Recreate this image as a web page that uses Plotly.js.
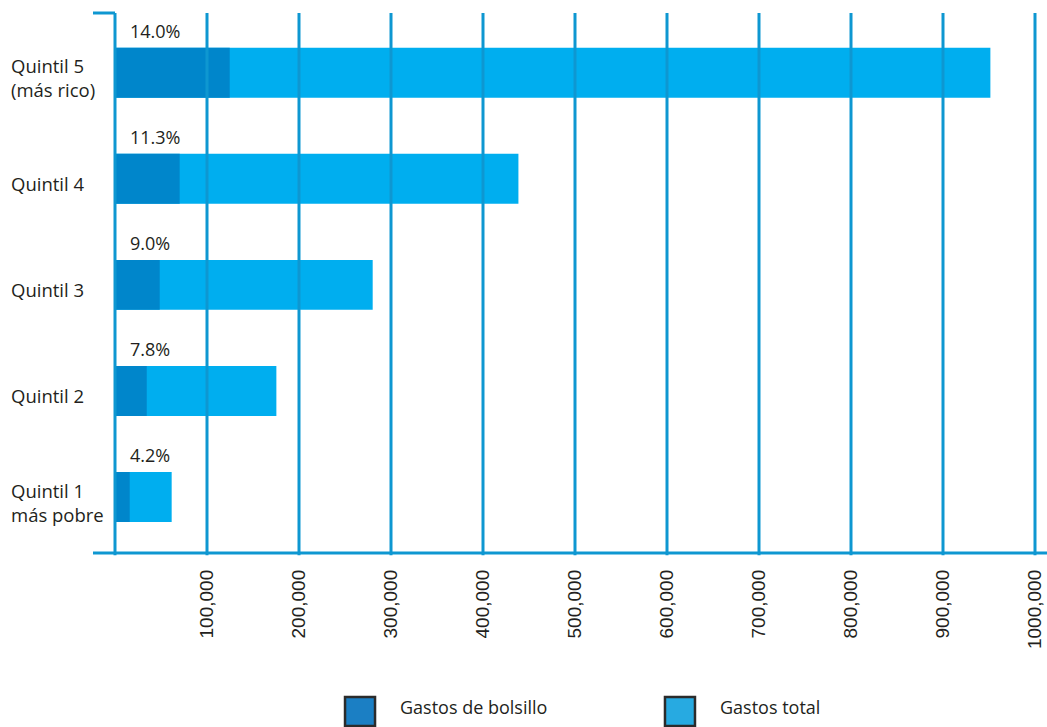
<!DOCTYPE html>
<html>
<head>
<meta charset="utf-8">
<script src="https://cdn.plot.ly/plotly-3.0.1.min.js"></script>
<style>html,body{margin:0;padding:0;background:#fff;}#chart{width:1047px;height:727px;}</style>
</head>
<body>
<div id="chart"></div>
<script>
// ---- Data ----
const categories = ["Quintil 1<br>más pobre", "Quintil 2", "Quintil 3", "Quintil 4", "Quintil 5<br>(más rico)"];
const gastosTotal = [61600, 175400, 280100, 438500, 951500];
const gastosBolsillo = [16000, 34500, 48600, 70300, 124700];
const pctLabels = ["4.2%", "7.8%", "9.0%", "11.3%", "14.0%"];
const seriesNames = ["Gastos de bolsillo", "Gastos total"];
const tickVals = [100000, 200000, 300000, 400000, 500000, 600000, 700000, 800000, 900000, 1000000];
const tickText = ["100,000", "200,000", "300,000", "400,000", "500,000", "600,000", "700,000", "800,000", "900,000", "1000,000"];

// ---- Style ----
const darkBar = "#0086cb";
const lightBar = "#00aeef";
const lineCol = "#0e97d1";
const txtCol = "#231f20";
const legendCols = ["#1b7fc4", "#27aae1"];

const traces = [
  {type: "bar", orientation: "h", y: categories, x: gastosTotal, name: seriesNames[1],
   marker: {color: lightBar}, width: 0.471, hoverinfo: "x+y"},
  {type: "bar", orientation: "h", y: categories, x: gastosBolsillo, name: seriesNames[0],
   marker: {color: darkBar}, width: 0.471, hoverinfo: "x+y"}
];

const shapes = [];
// grid lines drawn above bars
tickVals.forEach(v => shapes.push({type: "line", xref: "x", yref: "paper", x0: v, x1: v, y0: -0.004, y1: 1,
  line: {color: lineCol, width: 3}, layer: "above"}));
// axis lines
shapes.push({type: "line", xref: "paper", yref: "paper", x0: 0, x1: 0, y0: -0.004, y1: 1, line: {color: lineCol, width: 3}, layer: "above"});
shapes.push({type: "line", xref: "paper", yref: "paper", x0: -0.0236, x1: 0, y0: 1, y1: 1, line: {color: lineCol, width: 3}, layer: "above"});
shapes.push({type: "line", xref: "paper", yref: "paper", x0: -0.0236, x1: 1, y0: 0, y1: 0, line: {color: lineCol, width: 3}, layer: "above"});
// legend squares
const legX = [[0.2468, 0.279], [0.5901, 0.6223]];
legX.forEach((xx, i) => shapes.push({type: "rect", xref: "paper", yref: "paper", x0: xx[0], x1: xx[1], y0: -0.3204, y1: -0.2667,
  fillcolor: legendCols[i], line: {color: "#2b2b2b", width: 2.5}}));

const annotations = [];
categories.forEach((c, i) => {
  annotations.push({xref: "paper", yref: "y", x: -0.1142, y: c, text: c, showarrow: false,
    xanchor: "left", align: "left", yanchor: "middle", yshift: -5,
    font: {family: "Open Sans", size: 18.5, color: txtCol}});
  annotations.push({xref: "paper", yref: "y", x: 0.0139, y: c, text: pctLabels[i], showarrow: false,
    xanchor: "left", yanchor: "middle", yshift: 42,
    font: {family: "Open Sans", size: 18, color: txtCol}});
});
const legTextX = [0.3036, 0.647];
seriesNames.forEach((n, i) => annotations.push({xref: "paper", yref: "paper", x: legTextX[i], y: -0.2852, text: n,
  showarrow: false, xanchor: "left", yanchor: "middle", font: {family: "Open Sans", size: 18, color: txtCol}}));

const layout = {
  width: 1047, height: 727,
  margin: {l: 115, r: 0, t: 13, b: 174},
  paper_bgcolor: "#ffffff", plot_bgcolor: "#ffffff",
  barmode: "overlay",
  showlegend: false,
  xaxis: {range: [0, 1013043.5], tickvals: tickVals, ticktext: tickText, tickangle: -90,
    showgrid: false, zeroline: false, showline: false, ticks: "", ticklabelstandoff: 12,
    tickfont: {family: "Liberation Sans", size: 19, color: txtCol}, fixedrange: true},
  yaxis: {type: "category", categoryarray: categories, range: [-0.528, 4.563], showticklabels: false,
    showgrid: false, zeroline: false, showline: false, ticks: "", fixedrange: true},
  shapes: shapes,
  annotations: annotations
};

Plotly.newPlot("chart", traces, layout, {displayModeBar: false, staticPlot: true});
</script>
</body>
</html>
